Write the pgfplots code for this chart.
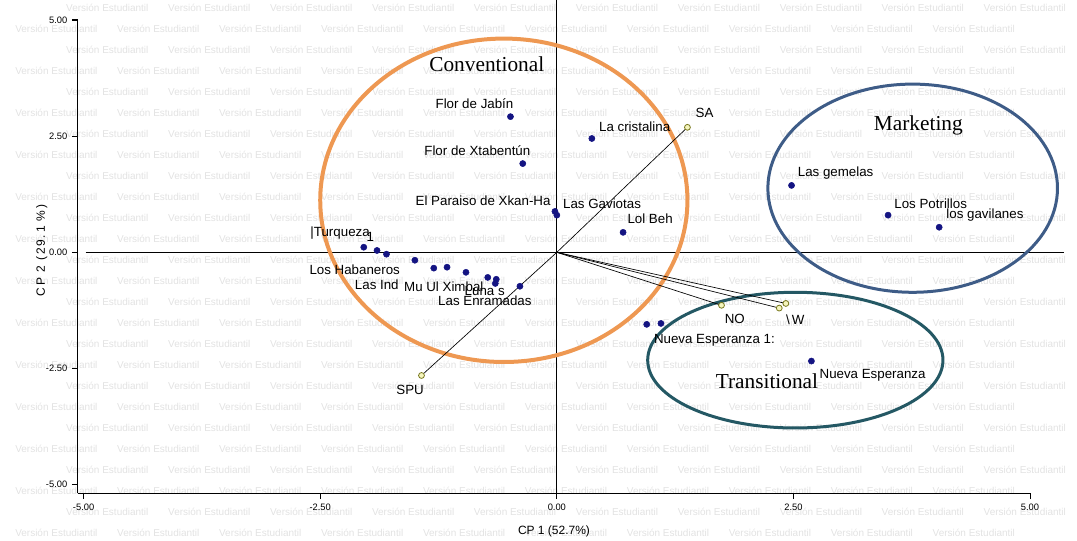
\documentclass[border=0pt]{standalone}
\usepackage{pgfplots}
\pgfplotsset{compat=1.18}
\usepackage{fontspec}
\setmainfont{Liberation Sans}
\newfontfamily\seriffont{Liberation Serif}
\definecolor{dotblue}{RGB}{20,20,130}
\definecolor{convorange}{RGB}{238,152,82}
\definecolor{mktblue}{RGB}{62,92,135}
\definecolor{transteal}{RGB}{36,88,100}
\definecolor{vecfill}{RGB}{245,245,190}
\definecolor{vecdraw}{RGB}{120,120,30}
\definecolor{wm}{RGB}{226,226,226}
\begin{document}
\begin{tikzpicture}
% background watermark of the student version
\foreach \k in {0,...,25}{
  \pgfmathsetmacro{\py}{8+21*\k}
  \pgfmathsetmacro{\off}{-51*(1-mod(\k,2))}
  \pgfmathtruncatemacro{\jstart}{1-mod(\k,2)}
  \pgfmathtruncatemacro{\jend}{10-mod(\k,2)}
  \foreach \j in {\jstart,...,\jend}{
    \pgfmathsetmacro{\px}{15+102*\j+\off}
    \node[anchor=west, inner sep=0pt, text=wm, font=\fontsize{7.5}{8}\selectfont]
      at ({(\px-78)*0.75pt},{(493-\py)*0.75pt}) {Versión Estudiantil};
  }
}
\begin{axis}[
  at={(0,0)}, anchor=south west,
  scale only axis, width=714.5pt, height=355pt,
  xmin=-5.06, xmax=5, ymin=-5.18, ymax=5,
  axis lines=left, axis line style={-, line width=0.8pt},
  clip=false,
  xtick={-5,-2.5,0,2.5,5}, ytick={-5,-2.5,0,2.5,5},
  tick align=outside, major tick length=4.5pt,
  tick style={black, line width=0.8pt},
  xticklabel style={font=\fontsize{7}{8}\selectfont},
  yticklabel style={font=\fontsize{7}{8}\selectfont},
  /pgf/number format/fixed, /pgf/number format/fixed zerofill,
  /pgf/number format/precision=2, /pgf/number format/assume math mode=true,
  xlabel={CP 1 (52.7\%)}, ylabel={CP 2 (29.1 \%)},
  xlabel style={at={(axis description cs:0.5,-0.082)}, anchor=center, font=\fontsize{9}{10}\selectfont},
  ylabel style={at={(axis description cs:-0.038,0.513)}, anchor=center, font=\fontsize{9}{10}\selectfont\addfontfeature{LetterSpace=15}},
  every node/.append style={font=\fontsize{7.5}{9}\selectfont},
]
% zero lines
\draw[line width=0.8pt] (axis cs:-4.98,0) -- (axis cs:5.36,0);
\draw[line width=0.8pt] (axis cs:0,5.42) -- (axis cs:0,-5.18);

% group ellipses
\draw[convorange, line width=3pt] (axis cs:-0.56,1.12) ellipse [x radius=1.94, y radius=3.48];
\draw[mktblue, line width=2.25pt] (axis cs:3.76,1.38) ellipse [x radius=1.53, y radius=2.24];
\draw[transteal, line width=2.25pt] (axis cs:2.52,-2.32) ellipse [x radius=1.56, y radius=1.46];

% variable vectors
\addplot[black, line width=0.5pt, mark=*, mark indices={2}, mark size=2.2pt,
  mark options={fill=vecfill, draw=vecdraw, line width=0.6pt}] coordinates {(0,0) (1.38,2.69)};
\addplot[black, line width=0.5pt, mark=*, mark indices={2}, mark size=2.2pt,
  mark options={fill=vecfill, draw=vecdraw, line width=0.6pt}] coordinates {(0,0) (-1.43,-2.65)};
\addplot[black, line width=0.5pt, mark=*, mark indices={2}, mark size=2.2pt,
  mark options={fill=vecfill, draw=vecdraw, line width=0.6pt}] coordinates {(0,0) (1.74,-1.14)};
\addplot[black, line width=0.5pt, mark=*, mark indices={2}, mark size=2.2pt,
  mark options={fill=vecfill, draw=vecdraw, line width=0.6pt}] coordinates {(0,0) (2.35,-1.20)};
\addplot[black, line width=0.5pt, mark=*, mark indices={2}, mark size=2.2pt,
  mark options={fill=vecfill, draw=vecdraw, line width=0.6pt}] coordinates {(0,0) (2.42,-1.10)};

% observations
\addplot[only marks, mark=*, mark size=2.3pt, color=dotblue] coordinates {
  (-2.04,0.11) (-1.90,0.04) (-1.80,-0.04) (-1.50,-0.17) (-1.30,-0.34)
  (-1.16,-0.32) (-0.96,-0.43) (-0.73,-0.54) (-0.64,-0.58) (-0.65,-0.67)
  (-0.39,-0.73) (-0.02,0.88) (0.00,0.80)
  (-0.49,2.92) (-0.36,1.91) (0.37,2.45) (0.70,0.43)
  (2.48,1.44) (3.50,0.80) (4.04,0.54)
  (0.95,-1.55) (1.10,-1.53) (2.69,-2.34)
};

% observation labels
\node[anchor=center] at (axis cs:-0.87,3.20) {Flor de Jabín};
\node[anchor=center] at (axis cs:-0.84,2.19) {Flor de Xtabentún};
\node[anchor=east, inner sep=1pt] at (axis cs:-0.05,1.12) {El Paraiso de Xkan-Ha};
\node[anchor=west, inner sep=1pt] at (axis cs:0.05,1.05) {Las Gaviotas};
\node[anchor=west, inner sep=1pt] at (axis cs:0.43,2.71) {La cristalina};
\node[anchor=west, inner sep=1pt] at (axis cs:0.73,0.73) {Lol Beh};
\node[anchor=west, inner sep=1pt] at (axis cs:2.53,1.70) {Las gemelas};
\node[anchor=west, inner sep=1pt] at (axis cs:3.55,1.05) {Los Potrillos};
\node[anchor=west, inner sep=1pt] at (axis cs:4.10,0.80) {los gavilanes};
\node[anchor=west, inner sep=1pt] at (axis cs:1.01,-1.89) {Nueva Esperanza 1:};
\node[anchor=west, inner sep=1pt] at (axis cs:2.76,-2.65) {Nueva Esperanza};
\node[anchor=west, inner sep=1pt] at (axis cs:-2.62,0.41) {|Turqueza};
\node[anchor=center] at (axis cs:-1.97,0.34) {1};
\node[anchor=west, inner sep=1pt] at (axis cs:-2.63,-0.37) {Los Habaneros};
\node[anchor=west, inner sep=1pt] at (axis cs:-2.15,-0.69) {Las Ind};
\node[anchor=west, inner sep=1pt] at (axis cs:-1.63,-0.75) {Mu Ul Ximbal};
\node[anchor=west, inner sep=1pt] at (axis cs:-0.99,-0.84) {Luna s};
\node[anchor=west, inner sep=1pt] at (axis cs:-1.27,-1.05) {Las Enramadas};

% variable labels
\node[anchor=west, inner sep=1pt] at (axis cs:1.45,2.99) {SA};
\node[anchor=center] at (axis cs:-1.55,-2.97) {SPU};
\node[anchor=center] at (axis cs:1.88,-1.44) {NO};
\node[anchor=center] at (axis cs:2.52,-1.46) {\textbackslash\,W};

% group names
\node[font=\seriffont\fontsize{16}{18}\selectfont] at (axis cs:-0.74,4.04) {Conventional};
\node[font=\seriffont\fontsize{16}{18}\selectfont] at (axis cs:3.82,2.73) {Marketing};
\node[font=\seriffont\fontsize{16}{18}\selectfont] at (axis cs:2.22,-2.77) {Transitional};
\end{axis}
\pgfresetboundingbox
\path (-58.5pt,-35.25pt) rectangle (749.75pt,370pt);
\end{tikzpicture}
\end{document}
